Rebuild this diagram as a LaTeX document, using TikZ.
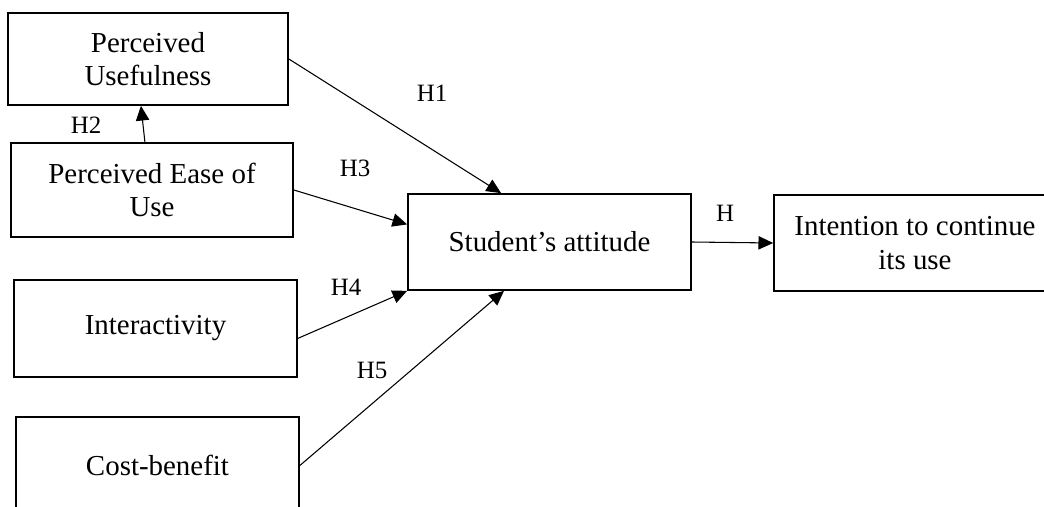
\documentclass[tikz,border=0pt]{standalone}
\usepackage{fontspec}
\setmainfont{Liberation Serif}
\usetikzlibrary{positioning, arrows.meta, calc}

\begin{document}
\begin{tikzpicture}[
    x=0.75pt, y=-0.75pt,
    >={Triangle[length=11pt, width=10pt]},
    box/.style={
        draw, line width=1.3pt, align=center, inner sep=0pt,
        font=\fontsize{21.7}{25}\selectfont
    },
    factorBox/.style={box, minimum width=283*0.75pt, minimum height=95*0.75pt},
    hypLabel/.style={inner sep=0pt, font=\fontsize{18.7}{22}\selectfont},
    link/.style={->, line width=0.8pt}
]
\useasboundingbox (0,0) rectangle (1044,506);
\clip (0,0) rectangle (1044,506);

\node[factorBox, minimum width=280*0.75pt, minimum height=92*0.75pt] (useful) at (148, 59) {Perceived\\Usefulness};
\node[factorBox, minimum width=282*0.75pt, minimum height=94*0.75pt] (ease) at (152, 190) {Perceived Ease of\\Use};
\node[factorBox, minimum height=97*0.75pt] (inter) at (155.5, 328.5) {Interactivity};
\node[factorBox, minimum height=97*0.75pt] (cost) at (157.5, 465.5) {Cost-benefit};

\node[factorBox, minimum height=96*0.75pt] (attitude) at (549.5, 242) {Student's attitude};
\node[factorBox, minimum width=282*0.75pt, minimum height=96*0.75pt] (intent) at (915, 243) {Intention to continue\\its use};

\node[hypLabel] (h1) at (432, 93) {H1};
\node[hypLabel] (h2) at (86, 125) {H2};
\node[hypLabel] (h3) at (355, 168) {H3};
\node[hypLabel] (h4) at (346, 287) {H4};
\node[hypLabel] (h5) at (372, 370) {H5};
\node[hypLabel] (h) at (725, 213) {H};

\draw[link] (useful.east) -- ($(attitude.north west)!0.33!(attitude.north east)$);
\draw[link] ($(ease.north west)!0.475!(ease.north east)$) -- ($(useful.south west)!0.475!(useful.south east)$);
\draw[link] (ease.east) -- ($(attitude.north west)!0.32!(attitude.south west)$);
\draw[link] ($(inter.north east)!0.6!(inter.south east)$) -- (attitude.south west);
\draw[link] (cost.east) -- ($(attitude.south west)!0.34!(attitude.south east)$);
\draw[link] (attitude.east) -- (intent.west);

\end{tikzpicture}
\end{document}
